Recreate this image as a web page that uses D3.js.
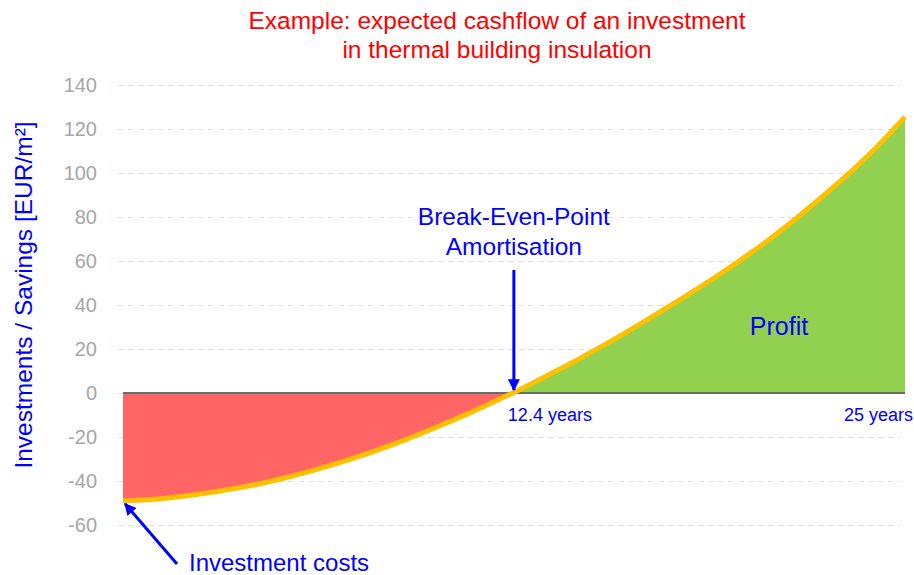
<!DOCTYPE html>
<html>
<head>
<meta charset="utf-8">
<script src="https://cdn.jsdelivr.net/npm/d3@7"></script>
<style>
  body { margin: 0; background: #fff; }
  text { font-family: "Liberation Sans", Arial, sans-serif; }
</style>
</head>
<body>
<script>
// cashflow per year (EUR/m²)
var years = [0, 1, 2, 3, 4, 5, 6, 7, 8, 9, 10, 11, 12, 13, 14, 15, 16, 17, 18, 19, 20, 21, 22, 23, 24, 25]
var cashflow = [-49, -48.3, -46.8, -44.8, -42.3, -39.2, -35.5, -31.3, -26.6, -21.4, -15.7, -9.6, -3.1,
  3.8, 11.1, 18.8, 26.9, 35.4, 44.2, 53.3, 63, 73.5, 85, 97.2, 110.5, 125.5]
var yTicks = [-60, -40, -20, 0, 20, 40, 60, 80, 100, 120, 140]
var titleLines = ["Example: expected cashflow of an investment", "in thermal building insulation"]
var breakEven = 12.4
var endYear = 25

var width = 914, height = 575
var blue = "#0000ff"

var data = years.map(function(d, i) { return { year: d, value: cashflow[i] } })

var svg = d3.select("body").append("svg")
    .attr("width", width)
    .attr("height", height)

var x = d3.scaleLinear().domain([0, 25]).range([123, 905])
var y = d3.scaleLinear().domain([-60, 140]).range([525, 85])

var defs = svg.append("defs")
defs.append("clipPath").attr("id", "above")
  .append("rect").attr("x", 0).attr("y", 0).attr("width", width).attr("height", y(0))
defs.append("clipPath").attr("id", "below")
  .append("rect").attr("x", 0).attr("y", y(0)).attr("width", width).attr("height", height - y(0))

var marker = defs.append("marker")
    .attr("id", "arrow")
    .attr("viewBox", "0 0 10 10")
    .attr("refX", 9).attr("refY", 5)
    .attr("markerWidth", 4).attr("markerHeight", 4)
    .attr("orient", "auto")
marker.append("path").attr("d", "M0,0 L10,5 L0,10 z").attr("fill", blue)

// gridlines
var yAxis = d3.axisLeft(y)
    .tickValues(yTicks)
    .tickFormat(function(d) { return String(d) })
    .tickSize(-(900 - 118))
    .tickPadding(21)
var gy = svg.append("g").attr("transform", "translate(118,0)").call(yAxis)
gy.select(".domain").remove()
gy.selectAll(".tick line")
    .attr("stroke", "#e2e2e2")
    .attr("stroke-dasharray", "6,4")
gy.selectAll(".tick text")
    .attr("fill", "#a6a6a6")
    .style("font-size", "20px")
    .style("font-family", "'Liberation Sans', Arial, sans-serif")

// filled areas
var area = d3.area()
    .x(function(d) { return x(d.year) })
    .y0(y(0))
    .y1(function(d) { return y(d.value) })
    .curve(d3.curveMonotoneX)

svg.append("path").datum(data)
    .attr("d", area)
    .attr("fill", "#ff6565")
    .attr("clip-path", "url(#below)")
svg.append("path").datum(data)
    .attr("d", area)
    .attr("fill", "#92d050")
    .attr("clip-path", "url(#above)")

// zero line
svg.append("line")
    .attr("x1", x(0)).attr("x2", x(endYear))
    .attr("y1", y(0)).attr("y2", y(0))
    .attr("stroke", "#6b6b6b")
    .attr("stroke-width", 2)

// cashflow line
var line = d3.line()
    .x(function(d) { return x(d.year) })
    .y(function(d) { return y(d.value) })
    .curve(d3.curveMonotoneX)
svg.append("path").datum(data)
    .attr("d", line)
    .attr("fill", "none")
    .attr("stroke", "#ffc000")
    .attr("stroke-width", 5)

// title
svg.append("g").selectAll("text")
    .data(titleLines)
    .enter().append("text")
    .attr("x", 497)
    .attr("y", function(d, i) { return 29 + i * 29 })
    .attr("text-anchor", "middle")
    .attr("fill", "#ff0000")
    .style("font-size", "24.5px")
    .text(function(d) { return d })

// y axis title
svg.append("text")
    .attr("transform", "translate(32,295) rotate(-90)")
    .attr("text-anchor", "middle")
    .attr("fill", blue)
    .style("font-size", "24.5px")
    .text("Investments / Savings [EUR/m²]")

// break-even annotation
var bx = x(breakEven) + 3
svg.append("text").attr("x", bx).attr("y", 225)
    .attr("text-anchor", "middle").attr("fill", blue).style("font-size", "24.5px")
    .text("Break-Even-Point")
svg.append("text").attr("x", bx).attr("y", 255)
    .attr("text-anchor", "middle").attr("fill", blue).style("font-size", "24.5px")
    .text("Amortisation")
svg.append("line")
    .attr("x1", bx).attr("x2", bx)
    .attr("y1", 270).attr("y2", y(0) - 3)
    .attr("stroke", blue).attr("stroke-width", 3)
    .attr("marker-end", "url(#arrow)")

// x labels
svg.append("text").attr("x", x(breakEven) - 3).attr("y", 421)
    .attr("fill", blue).style("font-size", "18px")
    .text(breakEven + " years")
svg.append("text").attr("x", 913).attr("y", 421)
    .attr("text-anchor", "end").attr("fill", blue).style("font-size", "18px")
    .text(endYear + " years")

// profit label
svg.append("text").attr("x", 779).attr("y", 335)
    .attr("text-anchor", "middle").attr("fill", blue).style("font-size", "25px")
    .text("Profit")

// investment costs annotation
svg.append("line")
    .attr("x1", 177).attr("y1", 564)
    .attr("x2", x(0) + 2).attr("y2", y(cashflow[0]) + 3)
    .attr("stroke", blue).attr("stroke-width", 3)
    .attr("marker-end", "url(#arrow)")
svg.append("text").attr("x", 189).attr("y", 571)
    .attr("fill", blue).style("font-size", "24px")
    .text("Investment costs")
</script>
</body>
</html>
